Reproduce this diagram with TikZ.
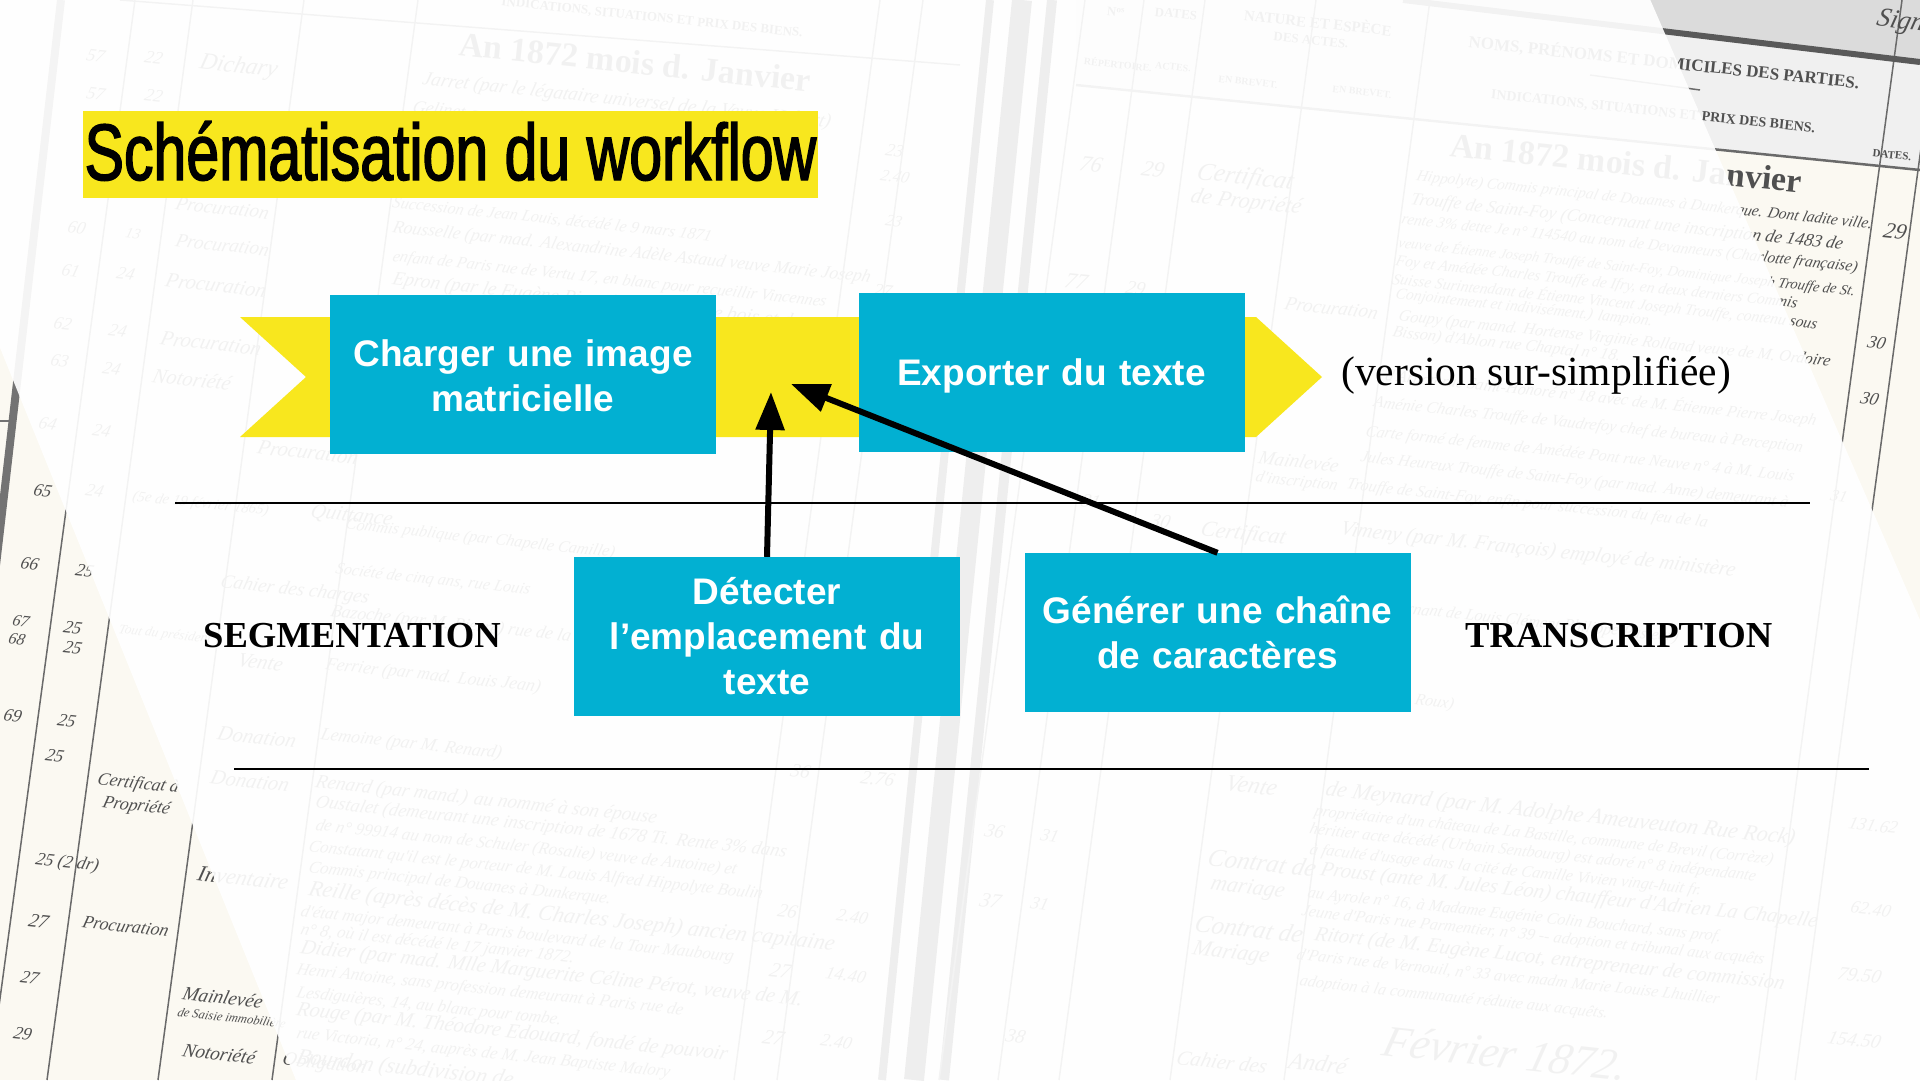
\documentclass[tikz,border=0pt]{standalone}
\usepackage{fontspec}
\usetikzlibrary{arrows.meta}
\setmainfont{Liberation Serif}
\newfontfamily\titlefont[FakeStretch=0.738,FakeBold=1.8]{Liberation Sans}
\newfontfamily\boxfont{Liberation Sans Bold}
\newfontfamily\handfont[FakeSlant=0.15]{Liberation Serif Italic}
\definecolor{banneryellow}{HTML}{F8E71E}
\definecolor{boxblue}{HTML}{02B0D2}
\definecolor{paper}{HTML}{FBF9F2}
\definecolor{ink}{HTML}{505050}
\tikzset{
  hand/.style={anchor=west,inner sep=0pt,rotate=-6,text=ink},
  printed/.style={inner sep=0pt,rotate=-6,text=ink,font=\bfseries\fontsize{13}{13}\selectfont},
  rule/.style={draw=ink!85,line width=1.5pt},
  gutter/.style={draw=black!85},
  veil/.style={fill=white,opacity=0.925},
  bluebox/.style={fill=boxblue,text=white,inner sep=0pt,minimum width=386pt,minimum height=159pt,
    align=center,text width=380pt,font=\boxfont\fontsize{37}{45}\selectfont},
  titlebox/.style={fill=banneryellow,text=black,inner sep=0pt,minimum width=735pt,minimum height=87pt,
    text height=55pt,text depth=4pt,font=\titlefont\fontsize{80}{80}\selectfont},
  serifnote/.style={anchor=base west,inner sep=0pt,text=black,font=\fontsize{41.5}{42}\selectfont},
  phase/.style={anchor=base west,inner sep=0pt,text=black,font=\bfseries\fontsize{36.6}{38}\selectfont},
  sep/.style={draw=black,line width=2pt},
  pointer/.style={draw=black,line width=6pt,-{Triangle[length=38pt,width=28pt]}},
}
\newcommand{\hw}[4]{\pgfmathsetmacro\hwsz{#3*0.74}\node[hand,font=\handfont\fontsize{\hwsz}{\hwsz}\selectfont] at (#1,#2) {#4};}
\begin{document}
\begin{tikzpicture}[x=1pt,y=-1pt]
\useasboundingbox (0,0) rectangle (1920,1080);
\clip (0,0) rectangle (1920,1080);
% ---- scanned register page -------------------------------------------
\fill[paper] (0,0) rectangle (1920,1080);
\fill[black!6] (1403,0) -- (1930,63) -- (1930,172) -- (1076,85) -- (1076,0) -- cycle;
\fill[black!14] (1403,0) -- (1930,63) -- (1930,0) -- cycle;
% gutter
\draw[gutter,line width=8pt] (990,0) -- (882,1080);
\draw[gutter,line width=20pt] (1022,0) -- (914,1080);
\draw[gutter,line width=10pt] (1052,0) -- (944,1080);
\draw[draw=black!55,line width=8pt] (61,0) -- (-8,600);
\draw[draw=black!55,line width=2pt] (0,421) -- (15,421);
% column rules
\foreach \xz in {135,193,304,418,880,923,1085,1144,1205,1316,1430,1902,1941}
  \draw[rule] (\xz,0) -- ({\xz-146},1080);
% header rules
\draw[rule] (120,0) -- (960,65);
\draw[rule,line width=2.5pt] (1076,85) -- (1920,170);
\draw[draw=black!65,line width=6pt] (1403,0) -- (1920,62);
\draw[rule] (1590,75) -- (1700,90);
% printed headings
\node[printed] at (652,18) {INDICATIONS, SITUATIONS ET PRIX DES BIENS.};
\node[printed,font=\bfseries\fontsize{17}{17}\selectfont] at (1664,62) {NOMS, PRÉNOMS ET DOMICILES DES PARTIES.};
\node[printed,font=\bfseries\fontsize{14}{14}\selectfont] at (1653,112) {INDICATIONS, SITUATIONS ET PRIX DES BIENS.};
\node[printed,font=\bfseries\fontsize{34}{34}\selectfont] at (635,62) {An 1872 mois d. Janvier};
\node[printed,font=\bfseries\fontsize{34}{34}\selectfont] at (1626,163) {An 1872 mois d. Janvier};
\node[printed] at (1116,12) {N\textsuperscript{os}};
\node[printed] at (1176,14) {DATES};
\node[printed] at (1311,40) {DES ACTES.};
\node[printed,font=\bfseries\fontsize{15}{15}\selectfont] at (1318,22) {NATURE ET ESPÈCE};
\node[printed,font=\bfseries\fontsize{10}{10}\selectfont] at (1118,64) {RÉPERTOIRE.};
\node[printed,font=\bfseries\fontsize{10}{10}\selectfont] at (1173,67) {ACTES.};
\node[printed,font=\bfseries\fontsize{10}{10}\selectfont] at (1248,82) {EN BREVET.};
\node[printed,font=\bfseries\fontsize{10}{10}\selectfont] at (1362,92) {EN BREVET.};
\node[printed,font=\bfseries\fontsize{11}{11}\selectfont] at (1892,155) {DATES.};
% left page, margin columns
\hw{86}{55}{24}{57}\hw{144}{57}{24}{22}\hw{199}{63}{32}{Dichary}
\hw{86}{93}{24}{57}\hw{144}{95}{24}{22}
\hw{175}{203}{26}{Procuration}
\hw{67}{227}{24}{60}\hw{125}{233}{20}{13}\hw{175}{240}{26}{Procuration}
\hw{61}{270}{24}{61}\hw{116}{273}{24}{24}\hw{165}{280}{28}{Procuration}
\hw{53}{323}{24}{62}\hw{108}{330}{24}{24}\hw{160}{338}{28}{Procuration}
\hw{50}{360}{24}{63}\hw{102}{368}{24}{24}\hw{152}{375}{28}{Notoriété}
\hw{38}{423}{24}{64}\hw{92}{430}{24}{24}\hw{257}{447}{28}{Procuration}
\hw{33}{490}{24}{65}\hw{85}{490}{24}{24}\hw{132}{497}{20}{(5e de 19 février 1865)}\hw{310}{512}{28}{Quittance}
\hw{20}{563}{24}{66}\hw{75}{570}{24}{25}\hw{220}{583}{26}{Cahier des charges}
\hw{12}{620}{22}{67}\hw{8}{638}{22}{68}\hw{63}{627}{24}{25}\hw{63}{647}{24}{25}\hw{118}{630}{18}{Tout du président}
\hw{237}{660}{28}{Vente}
\hw{3}{715}{24}{69}\hw{57}{720}{24}{25}\hw{217}{733}{28}{Donation}
\hw{45}{755}{24}{25}\hw{210}{777}{28}{Donation}
\hw{97}{780}{24}{Certificat à}\hw{102}{803}{24}{Propriété}
\hw{35}{860}{24}{25 (2 dr)}\hw{197}{873}{30}{Inventaire}
\hw{28}{920}{26}{27}\hw{82}{922}{24}{Procuration}
\hw{20}{977}{24}{27}\hw{182}{993}{26}{Mainlevée}\hw{177}{1012}{17}{de Saisie immobilière}
\hw{13}{1033}{24}{29}\hw{182}{1050}{26}{Notoriété}\hw{282}{1060}{26}{Obligation}
% left page, main column
\hw{422}{80}{26}{Jarret (par le légataire universel de la Veuve Hubert)}
\hw{412}{108}{24}{Gelinet ayant droit de la succession dépendant}
\hw{392}{203}{22}{Succession de Jean Louis, décédé le 9 mars 1871}
\hw{392}{228}{24}{Rousselle (par mad. Alexandrine Adèle Astaud veuve Marie Joseph}
\hw{392}{257}{22}{enfant de Paris rue de Vertu 17, en blanc pour recueillir Vincennes}
\hw{392}{280}{26}{Epron (par le Eugène Pierre) marchand de bois et dame Victoire}
\hw{386}{308}{24}{Pottier sa femme domiciliés rue Charlotte}
\hw{345}{525}{22}{Commis publique (par Chapelle Camille)}
\hw{335}{570}{22}{Société de cinq ans, rue Louis}
\hw{330}{612}{24}{Bazoche (par M. Pierre) rue de la}
\hw{325}{665}{24}{Ferrier (par mad. Louis Jean)}
\hw{320}{735}{24}{Lemoine (par M. Renard)}
\hw{315}{783}{26}{Renard (par mand.) au nommé à son épouse}
\hw{315}{803}{25}{Oustalet (demeurant une inscription de 1678 Ti. Rente 3\% dans}
\hw{315}{826}{23}{de n° 99914 au nom de Schuler (Rosalie) veuve de Antoine) et}
\hw{308}{847}{23}{Constatant qu'il est le porteur de M. Louis Alfred Hippolyte Boulin}
\hw{308}{868}{23}{Commis principal de Douanes à Dunkerque.}
\hw{308}{890}{30}{Reille (après décès de M. Charles Joseph) ancien capitaine}
\hw{300}{912}{23}{d'état major demeurant à Paris boulevard de la Tour Maubourg}
\hw{300}{930}{23}{n° 8, où il est décédé le 17 janvier 1872.}
\hw{300}{948}{28}{Didier (par mad. Mlle Marguerite Céline Pérot, veuve de M.}
\hw{296}{970}{23}{Henri Antoine, sans profession demeurant à Paris rue de}
\hw{296}{993}{23}{Lesdiguières, 14, au blanc pour tombe.}
\hw{296}{1010}{28}{Rouge (par M. Théodore Edouard, fondé de pouvoir}
\hw{296}{1034}{23}{rue Victoria, n° 24, auprès de M. Jean Baptiste Malory}
\hw{296}{1058}{30}{Bourdon (subdivision de}
% left page, sum columns
\hw{860}{777}{26}{2.76}\hw{790}{770}{26}{36}
\hw{777}{910}{26}{26}\hw{836}{915}{24}{2.40}
\hw{769}{970}{28}{27}\hw{825}{973}{24}{14.40}
\hw{762}{1037}{28}{27}\hw{820}{1040}{24}{2.40}
\hw{885}{150}{24}{23}\hw{880}{175}{22}{2.40}\hw{885}{220}{22}{23}
\hw{873}{290}{24}{27}
% right page, upper
\hw{1079}{163}{30}{76}\hw{1141}{168}{30}{29}\hw{1196}{173}{34}{Certificat}\hw{1190}{197}{30}{de Propriété}
\hw{1064}{280}{30}{77}\hw{1125}{287}{26}{29}
\hw{1416}{177}{21}{Hippolyte) Commis principal de Douanes à Dunkerque. Dont ladite ville.}
\hw{1410}{200}{24}{Trouffe de Saint-Foy (Concernant une inscription de 1483 de}
\hw{1401}{220}{21}{rente 3\% dette Je n° 114540 au nom de Devanneurs (Charlotte française)}
\hw{1398}{243}{19.5}{veuve de Étienne Joseph Trouffé de Saint-Foy, Dominique Joseph Trouffe de St.}
\hw{1395}{262}{21}{Foy et Amédée Charles Trouffe de Ifry, en deux derniers Commis}
\hw{1392}{279}{21}{Suisse Surintendant de Étienne Vincent Joseph Trouffe, contenu sous}
\hw{1395}{295}{21}{Conjointement et indivisément.) lampion.}
\hw{1284}{303}{26}{Procuration}
\hw{1398}{317}{22}{Goupy (par mand. Hortense Virginie Rolland veuve de M. Ordoire}
\hw{1392}{333}{22}{Bisson) d'Ablon rue Chaptal n° 18.}
\hw{1385}{375}{22}{d'Arnon rue Saint-Honoré n° 18 avec de M. Étienne Pierre Joseph}
\hw{1373}{403}{22}{Aménie Charles Trouffe de Vaudrefoy chef de bureau à Perception}
\hw{1365}{432}{22}{Carte formé de femme de Amédée Pont rue Neuve n° 4 à M. Louis}
\hw{1360}{458}{22}{Jules Heureux Trouffe de Saint-Foy (par mad. Anne) demeurant à}
\hw{1258}{457}{26}{Mainlevée}\hw{1255}{478}{22}{d'inscription}
\hw{1346}{485}{22}{Trouffe de Saint-Foy, enfin pour succession du feu de la}
\hw{1340}{530}{28}{Vimeny (par M. François) employé de ministère}
\hw{1876}{20}{36}{Sign.}
\hw{1883}{230}{30}{29}
\hw{1867}{342}{24}{30}\hw{1860}{398}{24}{30}\hw{1830}{495}{22}{31}
\hw{1080}{500}{26}{81}\hw{1150}{520}{26}{30}\hw{1200}{530}{30}{Certificat}
% right page, lower
\hw{1315}{600}{22}{Henry (Concernant de Louis Clément Philippe Pasteur)}
\hw{1310}{690}{22}{Riboud (par M. Roux)}
\hw{1225}{783}{32}{Vente}
\hw{1325}{790}{30}{de Meynard (par M. Adolphe Ameuveuton Rue Rock)}
\hw{1314}{812}{22}{propriétaire d'un château de La Bastille, commune de Brevil (Corrèze)}
\hw{1309}{830}{22}{héritier acte décédé (Urbain Sentbourg) est adoré n° 8 indépendante}
\hw{1309}{850}{22}{à faculté d'usage dans la cité de Camille Vivien vingt-huit fr.}
\hw{1320}{870}{28}{Proust (ante M. Jules Léon) chauffeur d'Adrien La Chapelle}
\hw{1307}{894}{22}{au Ayrole n° 16, à Madame Eugénie Colin Bouchard, sans prof.}
\hw{1301}{912}{22}{Jeune d'Paris rue Parmentier, n° 39 -- adoption et tribunal aux acquêts}
\hw{1314}{935}{28}{Ritort (de M. Eugène Lucot, entrepreneur de commission}
\hw{1296}{955}{22}{d'Paris rue de Vernouil, n° 33 avec madm Marie Louise Lhuillier}
\hw{1299}{982}{22}{adoption à la communauté réduite aux acquêts.}
\hw{1382}{1040}{60}{Février 1872.}
\hw{1207}{857}{34}{Contrat de}\hw{1210}{885}{30}{mariage}
\hw{1194}{923}{34}{Contrat de}\hw{1192}{950}{30}{Mariage}
\hw{1176}{1057}{28}{Cahier des}\hw{1288}{1060}{32}{André}
\hw{1848}{823}{24}{131.62}\hw{1850}{907}{24}{62.40}\hw{1837}{973}{26}{79.50}\hw{1827}{1037}{26}{154.50}
\hw{984}{830}{26}{36}\hw{1040}{835}{24}{31}\hw{979}{900}{28}{37}\hw{1030}{903}{24}{31}
\hw{1005}{1035}{26}{38}
% veil leaving only two corners of the scan visible
\fill[veil] (-10,-10) -- (1646,-10) -- (1930,643) -- (1930,1095) -- (302,1095) -- (-10,323) -- cycle;
% ---- diagram ---------------------------------------------------------
\node[titlebox] (title) at (450.5,154.5) {Schématisation du workflow};
\fill[banneryellow] (240,317) -- (1256,317) -- (1322,377) -- (1256,437) -- (240,437) -- (306,377) -- cycle;
\node[bluebox] (load) at (523,374.5) {\rule{0pt}{30pt}Charger une image\\matricielle};
\node[bluebox,text height=34pt,text depth=8pt] (export) at (1051.5,372.5) {Exporter du texte};
\node[bluebox] (detect) at (767,636.5) {Détecter\\l’emplacement du\\texte};
\node[bluebox] (generate) at (1217.5,632.5) {Générer une chaîne\\de caractères};
\node[serifnote] (note) at (1341,385) {(version sur-simplifiée)};
\node[phase] (seg) at (203,647) {SEGMENTATION};
\node[phase] (trans) at (1465,647) {TRANSCRIPTION};
\coordinate (r1a) at (175,503);
\coordinate (r1b) at (1810,503);
\coordinate (r2a) at (234,769);
\coordinate (r2b) at (1869,769);
\draw[sep] (r1a) -- (r1b);
\draw[sep] (r2a) -- (r2b);
\coordinate (tipA) at (771,392);
\coordinate (tipB) at (791,384);
\draw[pointer] (detect.north) -- (tipA);
\draw[pointer] (generate.north) -- (tipB);
\end{tikzpicture}
\end{document}
